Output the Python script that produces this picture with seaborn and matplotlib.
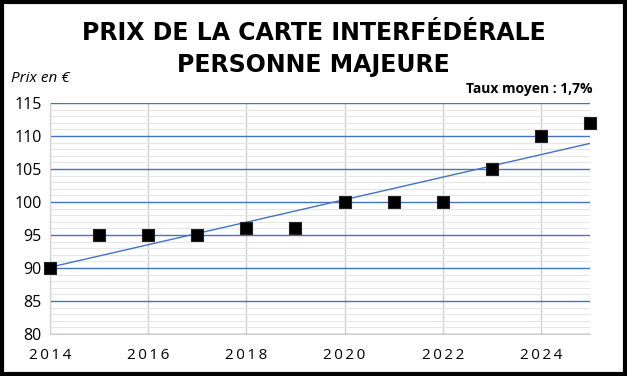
import numpy as np
import pandas as pd
import matplotlib
matplotlib.use('Agg')
import matplotlib.pyplot as plt
from matplotlib.ticker import MultipleLocator
import seaborn as sns

# data
annees = [2014, 2015, 2016, 2017, 2018, 2019, 2020, 2021, 2022, 2023, 2024, 2025]
prix = [90, 95, 95, 95, 96, 96, 100, 100, 100, 105, 110, 112]
y_ticks = [80, 85, 90, 95, 100, 105, 110, 115]
x_ticks = [2014, 2016, 2018, 2020, 2022, 2024]

df = pd.DataFrame({'annee': annees, 'prix': prix})

sns.set_style('white')
plt.rcParams['font.family'] = ['Open Sans', 'DejaVu Sans']
plt.rcParams['text.color'] = 'black'
plt.rcParams['xtick.color'] = 'black'
plt.rcParams['ytick.color'] = 'black'

fig = plt.figure(figsize=(6.27, 3.76), dpi=100)
ax = fig.add_axes([0.0797, 0.1117, 0.8613, 0.6143])

# minor grid (light grey), major grid (blue)
ax.yaxis.set_minor_locator(MultipleLocator(1))
ax.grid(which='minor', axis='y', color='#e6e6e6', lw=0.8, zorder=0)
ax.grid(which='major', axis='y', color='#4472c4', lw=1.0, zorder=1)
ax.grid(which='major', axis='x', color='#d0d0d0', lw=1.0, zorder=1)

# linear trend line
sns.regplot(data=df, x='annee', y='prix', ax=ax, ci=None, scatter=False,
            line_kws={'color': '#4472c4', 'lw': 1.0, 'zorder': 3})

sns.scatterplot(data=df, x='annee', y='prix', ax=ax, marker='s', s=80,
                color='black', edgecolor='#222222', linewidth=0.8, zorder=4,
                clip_on=False)

ax.set_xlim(2014, 2025)
ax.set_ylim(80, 115)
ax.set_xticks(x_ticks)
ax.set_yticks(y_ticks)
ax.set_xticklabels(['\u2009'.join(str(a)) for a in x_ticks], fontsize=11)
ax.set_yticklabels([str(v) for v in y_ticks], fontsize=11.5)
ax.tick_params(axis='both', which='both', length=0)
ax.tick_params(axis='x', pad=10)
ax.tick_params(axis='y', pad=6)
ax.set_xlabel('')
ax.set_ylabel('')

for s in ['top', 'right']:
    ax.spines[s].set_visible(False)
ax.spines['left'].set_color('#d0d0d0')
ax.spines['bottom'].set_color('#d0d0d0')

fig.text(0.5, 0.912, 'PRIX DE LA CARTE INTERFÉDÉRALE', ha='center', va='center',
         fontsize=17, fontweight='bold', family=['DejaVu Sans'])
fig.text(0.5, 0.827, 'PERSONNE MAJEURE', ha='center', va='center',
         fontsize=17, fontweight='bold', family=['DejaVu Sans'])
fig.text(0.018, 0.79, 'Prix en €', ha='left', va='center', fontsize=11,
         fontstyle='italic')
fig.text(0.945, 0.762, 'Taux moyen : 1,7%', ha='right', va='center',
         fontsize=10, fontweight='bold')

# black frame around the figure
fig.patches.append(plt.Rectangle((0.0025, 0.004), 0.995, 0.992, transform=fig.transFigure,
                                 fill=False, edgecolor='black', lw=3))

fig.savefig('out.png', dpi=100)
